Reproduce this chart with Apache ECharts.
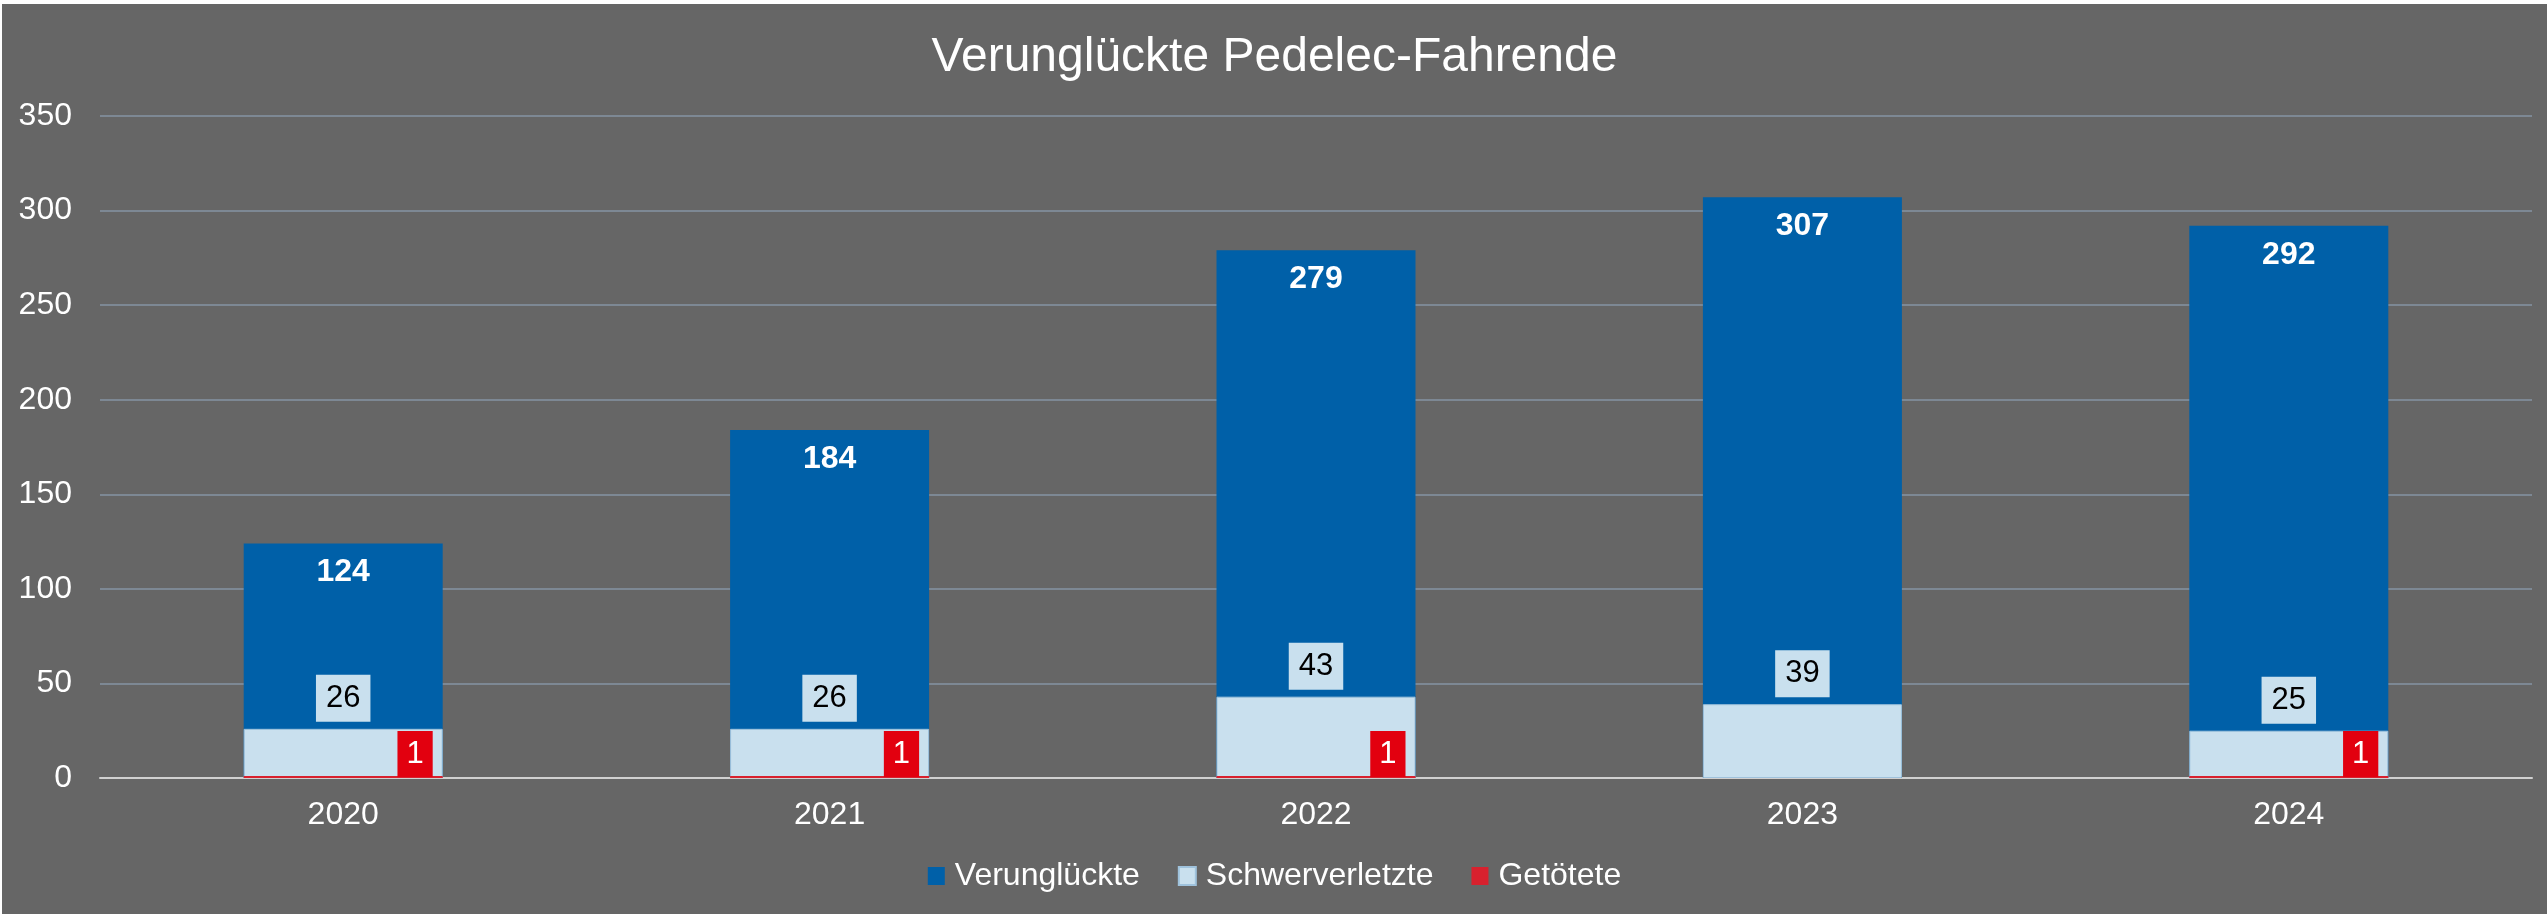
<!DOCTYPE html>
<html>
<head>
<meta charset="utf-8">
<script src="https://cdn.jsdelivr.net/npm/echarts@6/dist/echarts.min.js"></script>
<style>
  html, body { margin: 0; padding: 0; background: #ffffff; }
  #chart { position: absolute; left: 2px; top: 4px; width: 2545px; height: 910px; }
</style>
</head>
<body>
<div id="chart"></div>
<script>
// Verunglückte Pedelec-Fahrende, Balken überlagert (nicht gestapelt)
const jahre = ['2020', '2021', '2022', '2023', '2024']
const verunglueckte = [124, 184, 279, 307, 292]
const schwerverletzte = [26, 26, 43, 39, 25]
const getoetete = [1, 1, 1, 0, 1]

const font = 'Liberation Sans, Arial, sans-serif'

const chart = echarts.init(document.getElementById('chart'))

chart.setOption({
  backgroundColor: '#666666',
  animation: false,
  title: {
    text: 'Verunglückte Pedelec-Fahrende',
    left: 'center',
    top: 30,
    padding: 0,
    textStyle: { color: '#ffffff', fontSize: 48, fontWeight: 'normal', fontFamily: font }
  },
  legend: {
    top: 856,
    left: 'center',
    padding: 0,
    itemWidth: 17,
    itemHeight: 18,
    itemGap: 38,
    icon: 'rect',
    textStyle: { color: '#ffffff', fontSize: 32, fontFamily: font, padding: [0, 0, 0, 5] },
    data: ['Verunglückte', 'Schwerverletzte', 'Getötete']
  },
  grid: { left: 98, right: 15, top: 112, bottom: 136 },
  xAxis: {
    type: 'category',
    data: jahre,
    axisTick: { show: false },
    axisLine: { lineStyle: { color: '#d0d0d0', width: 2 } },
    axisLabel: { color: '#ffffff', fontSize: 32, fontFamily: font, margin: 21 }
  },
  yAxis: {
    type: 'value',
    min: 0,
    max: 350,
    interval: 50,
    axisLine: { show: false },
    axisTick: { show: false },
    splitLine: { lineStyle: { color: '#7d8894', width: 2 } },
    axisLabel: { color: '#ffffff', fontSize: 32, fontFamily: font, margin: 28 }
  },
  series: [
    {
      name: 'Verunglückte',
      type: 'bar',
      barWidth: 199,
      barGap: '-100%',
      data: verunglueckte,
      itemStyle: { color: '#0060a8' },
      label: {
        show: true,
        position: 'insideTop',
        distance: 13,
        color: '#ffffff',
        fontSize: 32,
        fontWeight: 'bold',
        fontFamily: font
      }
    },
    {
      name: 'Schwerverletzte',
      type: 'bar',
      barWidth: 199,
      barGap: '-100%',
      data: schwerverletzte,
      itemStyle: { color: '#c9e0ee', borderColor: '#9fc2dc', borderWidth: 1 },
      label: {
        show: true,
        position: 'top',
        distance: 7,
        color: '#000000',
        fontSize: 31,
        fontFamily: font,
        backgroundColor: '#c9e0ee',
        padding: [8, 10, 8, 10]
      }
    },
    {
      name: 'Getötete',
      type: 'bar',
      barWidth: 199,
      barGap: '-100%',
      data: getoetete.map(v => v > 0 ? v : { value: v, label: { show: false } }),
      itemStyle: { color: '#d8212e' },
      label: {
        show: true,
        position: 'insideBottomRight',
        distance: 0,
        offset: [-10, -1],
        color: '#ffffff',
        fontSize: 31,
        fontFamily: font,
        backgroundColor: '#e2000f',
        padding: [8, 9, 7, 9]
      }
    }
  ]
})
</script>
</body>
</html>
